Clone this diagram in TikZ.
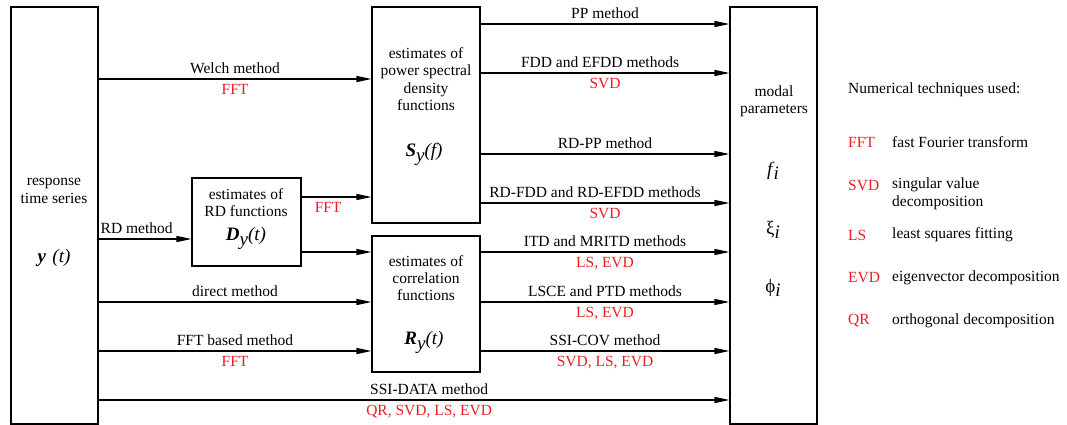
\documentclass[tikz,border=0pt]{standalone}
\usepackage{fontspec}
\setmainfont{Liberation Serif}
\usetikzlibrary{arrows.meta}
\definecolor{tred}{RGB}{237,28,36}
\begin{document}
\begin{tikzpicture}[x=1pt,y=-1pt,
  font=\fontsize{15.5}{17.3}\selectfont,
  box/.style={draw, line width=1.1pt, inner sep=0pt},
  arr/.style={line width=1.2pt, -{Triangle[length=15pt,width=6pt]}},
  lab/.style={above, inner sep=5pt},
  tech/.style={below, inner sep=4.5pt, text=tred},
  txt/.style={align=center, inner sep=0pt},
  big/.style={inner sep=0pt, font=\fontsize{19}{20}\selectfont},
  leg/.style={anchor=west, inner sep=0pt},
  legr/.style={anchor=west, inner sep=0pt, text=tred}]
\useasboundingbox (0,0) rectangle (1067,425);
% boxes
\node[box, minimum width=87pt, minimum height=417pt] (ts) at (54.5,215.5) {};
\node[box, minimum width=108pt, minimum height=216pt] (psd) at (426,115) {};
\node[box, minimum width=108pt, minimum height=136pt] (cor) at (426,304) {};
\node[box, minimum width=109pt, minimum height=88pt] (rd) at (246.5,222) {};
\node[box, minimum width=87pt, minimum height=417pt] (mp) at (773.5,215.5) {};
% box texts
\node[txt] (tsT) at (54,191) {response\\time series};
\node[big] (tsY) at (54,258) {\textbf{\textit{y}}\,\,\textit{(t)}};
\node[txt] (rdT) at (246,202.5) {estimates of\\RD functions};
\node[big] (rdD) at (246,238) {\textbf{\textit{D}}\raisebox{-5pt}{\textit{y}}\textit{(t)}};
\node[txt] (psdT) at (426,79) {estimates of\\power spectral\\density\\functions};
\node[big] (psdS) at (424,154) {\textbf{\textit{S}}\raisebox{-5pt}{\textit{y}}\textit{(f)}};
\node[txt] (corT) at (426,278) {estimates of\\correlation\\functions};
\node[big] (corR) at (424,342) {\textbf{\textit{R}}\raisebox{-5pt}{\textit{y}}\textit{(t)}};
\node[txt] (mpT) at (774,101.5) {modal\\parameters};
\node[big] (mpF) at (773,171) {\textit{f}\kern-1pt\raisebox{-4pt}{\textit{i}}};
\node[big] (mpX) at (773,230) {ξ\raisebox{-4pt}{\textit{i}}};
\node[big] (mpP) at (773,288) {ϕ\raisebox{-4pt}{\textit{i}}};
% left arrows
\draw[arr] (ts.east |- 0,79) -- node[lab]{Welch method} node[tech]{FFT} (psd.west |- 0,79);
\draw[arr] (ts.east |- 0,239) -- node[lab, pos=0.41]{RD method} (rd.west |- 0,239);
\draw[arr] (rd.east |- 0,197) -- node[tech, pos=0.38]{FFT} (psd.west |- 0,197);
\draw[arr] (rd.east |- 0,252) -- (cor.west |- 0,252);
\draw[arr] (ts.east |- 0,302) -- node[lab]{direct method} (cor.west |- 0,302);
\draw[arr] (ts.east |- 0,351) -- node[lab]{FFT based method} node[tech]{FFT} (cor.west |- 0,351);
\draw[arr] (ts.east |- 0,400) -- node[lab, pos=0.524]{SSI-DATA method} node[tech, pos=0.524]{QR, SVD, LS, EVD} (mp.west |- 0,400);
% right arrows
\draw[arr] (psd.east |- 0,24) -- node[lab]{PP method} (mp.west |- 0,24);
\draw[arr] (psd.east |- 0,73) -- node[lab, pos=0.48]{FDD and EFDD methods} node[tech]{SVD} (mp.west |- 0,73);
\draw[arr] (psd.east |- 0,154) -- node[lab]{RD-PP method} (mp.west |- 0,154);
\draw[arr] (psd.east |- 0,203) -- node[lab, pos=0.46]{RD-FDD and RD-EFDD methods} node[tech]{SVD} (mp.west |- 0,203);
\draw[arr] (cor.east |- 0,252) -- node[lab]{ITD and MRITD methods} node[tech]{LS, EVD} (mp.west |- 0,252);
\draw[arr] (cor.east |- 0,302) -- node[lab]{LSCE and PTD methods} node[tech]{LS, EVD} (mp.west |- 0,302);
\draw[arr] (cor.east |- 0,351) -- node[lab]{SSI-COV method} node[tech]{SVD, LS, EVD} (mp.west |- 0,351);
% legend
\node[leg] (legT) at (848,90) {Numerical techniques used:};
\node[legr] (l1) at (848,142) {FFT};
\node[leg] (d1) at (892,142) {fast Fourier transform};
\node[legr] (l2) at (848,185) {SVD};
\node[leg, anchor=north west, align=left] (d2) at (892,178) {singular value\\decomposition};
\node[legr] (l3) at (848,235) {LS};
\node[leg] (d3) at (892,235) {least squares fitting};
\node[legr] (l4) at (848,278) {EVD};
\node[leg] (d4) at (892,278) {eigenvector decomposition};
\node[legr] (l5) at (848,321) {QR};
\node[leg] (d5) at (892,321) {orthogonal decomposition};
\end{tikzpicture}
\end{document}
